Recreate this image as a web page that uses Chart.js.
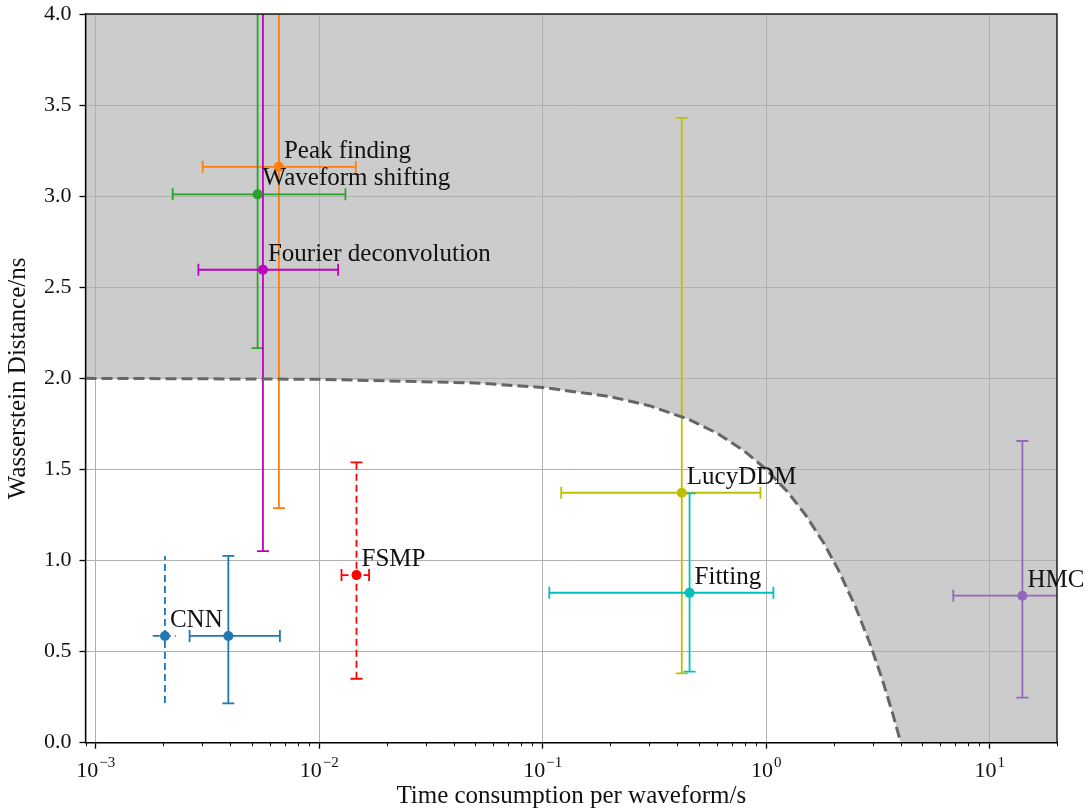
<!DOCTYPE html>
<html>
<head>
<meta charset="utf-8">
<script src="https://cdn.jsdelivr.net/npm/chart.js@4/dist/chart.umd.min.js"></script>
<style>
  html, body { margin: 0; padding: 0; background: #ffffff; }
  canvas { display: block; }
</style>
</head>
<body>
<canvas id="c" width="1088" height="809"></canvas>
<script>
// ---------------- data ----------------
const methods   = ['CNN', '', 'FSMP', 'Peak finding', 'Waveform shifting', 'Fourier deconvolution', 'LucyDDM', 'Fitting', 'HMC'];
const timeCost  = [0.00204, 0.00392, 0.01468, 0.0066, 0.0053, 0.0056, 0.419, 0.454, 14.0];
const timeLow   = [0.0018, 0.00263, 0.01258, 0.00301, 0.00221, 0.00288, 0.121, 0.107, 6.87];
const timeHigh  = [0.00228, 0.00667, 0.01671, 0.01458, 0.0131, 0.01215, 0.942, 1.077, 21.1];
const wDist     = [0.586, 0.586, 0.920, 3.161, 3.010, 2.596, 1.372, 0.823, 0.807];
const wDistLow  = [0.218, 0.216, 0.351, 1.288, 2.166, 1.052, 0.381, 0.390, 0.247];
const wDistHigh = [1.025, 1.026, 1.539, 5.03, 4.6, 4.14, 3.430, 1.369, 1.656];

// boundary of the shaded region
const boundaryX = [0.0009, 0.01, 0.05, 0.1, 0.2, 0.3, 0.45, 0.6, 0.8, 1.0, 1.25, 1.5, 1.8, 2.1, 2.5, 2.9, 3.3, 3.7, 4.0];
const boundaryY = [2.0, 1.995, 1.975, 1.95, 1.90, 1.85, 1.775, 1.70, 1.60, 1.50, 1.375, 1.25, 1.10, 0.95, 0.75, 0.55, 0.35, 0.15, 0.0];

const xTickValues = [0.001, 0.01, 0.1, 1, 10];
const xTickBase   = ['10', '10', '10', '10', '10'];
const xTickExp    = ['\u22123', '\u22122', '\u22121', '0', '1'];
const yTickValues = [0, 0.5, 1.0, 1.5, 2.0, 2.5, 3.0, 3.5, 4.0];
const yTickLabels = ['0.0', '0.5', '1.0', '1.5', '2.0', '2.5', '3.0', '3.5', '4.0'];
const xTitle = 'Time consumption per waveform/s';
const yTitle = 'Wasserstein Distance/ns';

// ---------------- styles ----------------
const colors  = ['#1f77b4', '#1f77b4', '#ff0000', '#ff7f0e', '#2ca02c', '#bf00bf', '#bfbf00', '#00bfbf', '#9467bd'];
const dashed  = [true, false, true, false, false, false, false, false, false];
const hasCaps = [false, true, true, true, true, true, true, true, true];
const SERIF = '"Liberation Serif", "Times New Roman", serif';
const TEXT = '#111111';

const bgPlugin = {
  id: 'bgShade',
  beforeDraw(chart) {
    const { ctx, chartArea: a, scales: { x, y } } = chart;
    ctx.save();
    ctx.fillStyle = '#cccccc';
    ctx.fillRect(a.left, a.top, a.right - a.left, a.bottom - a.top);
    ctx.beginPath();
    ctx.rect(a.left, a.top, a.right - a.left, a.bottom - a.top);
    ctx.clip();
    ctx.beginPath();
    ctx.moveTo(a.left, y.getPixelForValue(0));
    ctx.lineTo(a.left, y.getPixelForValue(boundaryY[0]));
    for (let i = 0; i < boundaryX.length; i++) {
      ctx.lineTo(x.getPixelForValue(boundaryX[i]), y.getPixelForValue(boundaryY[i]));
    }
    ctx.lineTo(x.getPixelForValue(boundaryX[boundaryX.length - 1]), y.getPixelForValue(0));
    ctx.closePath();
    ctx.fillStyle = '#ffffff';
    ctx.fill();
    ctx.restore();
  }
};

const errPlugin = {
  id: 'errBars',
  beforeDatasetsDraw(chart) {
    const { ctx, chartArea: a, scales: { x, y } } = chart;
    ctx.save();
    ctx.beginPath();
    ctx.rect(a.left, a.top, a.right - a.left, a.bottom - a.top);
    ctx.clip();
    const cap = 6;
    for (let i = 0; i < timeCost.length; i++) {
      const px = x.getPixelForValue(timeCost[i]);
      const py = y.getPixelForValue(wDist[i]);
      const xl = x.getPixelForValue(timeLow[i]);
      const xh = x.getPixelForValue(timeHigh[i]);
      const yl = y.getPixelForValue(wDistLow[i]);
      const yh = y.getPixelForValue(wDistHigh[i]);
      ctx.strokeStyle = colors[i];
      ctx.lineWidth = 1.8;
      ctx.lineCap = 'butt';
      ctx.setLineDash(dashed[i] ? [7, 4] : []);
      ctx.beginPath();
      ctx.moveTo(xl, py); ctx.lineTo(xh, py);
      ctx.stroke();
      ctx.beginPath();
      ctx.moveTo(px, yl); ctx.lineTo(px, yh);
      ctx.stroke();
      ctx.setLineDash([]);
      if (hasCaps[i]) {
        ctx.beginPath();
        ctx.moveTo(xl, py - cap); ctx.lineTo(xl, py + cap);
        ctx.moveTo(xh, py - cap); ctx.lineTo(xh, py + cap);
        ctx.moveTo(px - cap, yl); ctx.lineTo(px + cap, yl);
        ctx.moveTo(px - cap, yh); ctx.lineTo(px + cap, yh);
        ctx.stroke();
      }
    }
    ctx.restore();
  },
  afterDatasetsDraw(chart) {
    const { ctx, scales: { x, y } } = chart;
    ctx.save();
    ctx.font = '25px ' + SERIF;
    ctx.fillStyle = TEXT;
    ctx.textAlign = 'left';
    ctx.textBaseline = 'alphabetic';
    for (let i = 0; i < methods.length; i++) {
      if (!methods[i]) continue;
      const px = x.getPixelForValue(timeCost[i]);
      const py = y.getPixelForValue(wDist[i]);
      ctx.fillText(methods[i], px + 5, py - 9);
    }
    ctx.restore();
  },
  afterDraw(chart) {
    const { ctx, chartArea: a, scales: { x } } = chart;
    ctx.save();
    ctx.strokeStyle = '#000';
    ctx.lineWidth = 1.3;
    ctx.strokeRect(a.left, a.top, a.right - a.left, a.bottom - a.top);
    ctx.lineWidth = 1;
    ctx.beginPath();
    for (let d = -4; d <= 1; d++) {
      for (let k = 2; k <= 9; k++) {
        const v = k * Math.pow(10, d);
        if (v < x.min || v > x.max) continue;
        const px = Math.round(x.getPixelForValue(v)) + 0.5;
        ctx.moveTo(px, a.bottom);
        ctx.lineTo(px, a.bottom + 3.5);
      }
    }
    ctx.stroke();
    ctx.fillStyle = TEXT;
    ctx.textBaseline = 'alphabetic';
    ctx.textAlign = 'left';
    for (let i = 0; i < xTickValues.length; i++) {
      const px = x.getPixelForValue(xTickValues[i]);
      ctx.font = '22px ' + SERIF;
      const w1 = ctx.measureText(xTickBase[i]).width;
      ctx.font = '15px ' + SERIF;
      const w2 = ctx.measureText(xTickExp[i]).width;
      const start = px - (w1 + w2 + 1) / 2;
      ctx.font = '22px ' + SERIF;
      ctx.fillText(xTickBase[i], start, 777);
      ctx.font = '15px ' + SERIF;
      ctx.fillText(xTickExp[i], start + w1 + 1, 767);
    }
    ctx.restore();
  }
};

new Chart(document.getElementById('c'), {
  data: {
    datasets: [
      {
        type: 'line',
        data: boundaryX.map((v, i) => ({ x: v, y: boundaryY[i] })),
        borderColor: '#666666',
        borderWidth: 3,
        borderDash: [11, 5],
        pointRadius: 0,
        fill: false,
        tension: 0,
        order: 2
      },
      {
        type: 'scatter',
        data: timeCost.map((v, i) => ({ x: v, y: wDist[i] })),
        pointBackgroundColor: colors,
        pointBorderColor: colors,
        pointRadius: 5,
        pointBorderWidth: 0,
        order: 1
      }
    ]
  },
  options: {
    responsive: false,
    animation: false,
    layout: { padding: { top: 14, right: 31, left: 0, bottom: 0 } },
    plugins: { legend: { display: false }, tooltip: { enabled: false } },
    scales: {
      x: {
        type: 'logarithmic',
        min: 0.0009,
        max: 20,
        afterBuildTicks: s => { s.ticks = xTickValues.map(v => ({ value: v, major: true })); },
        afterFit: s => { s.height = 66.3; s.paddingLeft = 0; s.paddingRight = 0; },
        ticks: { display: false },
        grid: { color: '#b0b0b0', lineWidth: 1, tickLength: 6, tickColor: '#000', tickWidth: 1.3, drawTicks: true },
        border: { color: '#000', width: 1.3 },
        title: { display: true, text: xTitle, color: TEXT, font: { family: SERIF, size: 25, lineHeight: 1 }, padding: 0 }
      },
      y: {
        type: 'linear',
        min: 0,
        max: 4,
        afterBuildTicks: s => { s.ticks = yTickValues.map(v => ({ value: v })); },
        afterFit: s => { s.width = 85.5; s.paddingTop = 0; s.paddingBottom = 0; },
        ticks: {
          callback: (v, i) => yTickLabels[i],
          color: TEXT,
          font: { family: SERIF, size: 22 },
          padding: 8
        },
        grid: { color: '#b0b0b0', lineWidth: 1, tickLength: 6, tickColor: '#000', tickWidth: 1.3, drawTicks: true },
        border: { color: '#000', width: 1.3 },
        title: { display: true, text: yTitle, color: TEXT, font: { family: SERIF, size: 25, lineHeight: 1 }, padding: { top: 5.5, bottom: 0 } }
      }
    }
  },
  plugins: [bgPlugin, errPlugin]
});
</script>
</body>
</html>
